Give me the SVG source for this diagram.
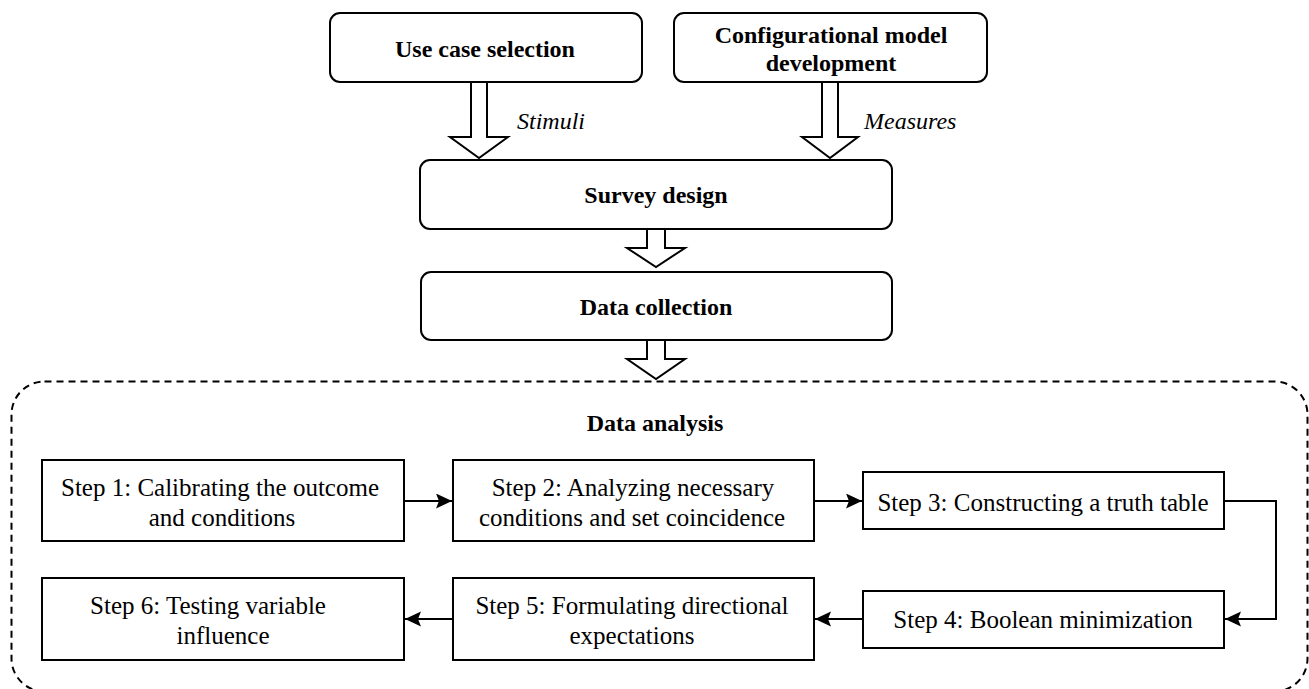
<svg xmlns="http://www.w3.org/2000/svg" width="1309" height="689" viewBox="0 0 1309 689">
<style>
.rbox{fill:#fff;stroke:#000;stroke-width:2}
.box{fill:#fff;stroke:#000;stroke-width:2}
.harrow{fill:#fff;stroke:#000;stroke-width:2;stroke-linejoin:miter}
.t{font-family:"Liberation Serif","Times New Roman",serif;font-size:24px;fill:#000;text-anchor:middle}
.s{font-size:25px}
.b{font-weight:bold}
.i{font-style:italic;text-anchor:start}
.conn{fill:none;stroke:#000;stroke-width:2}
.cont{fill:none;stroke:#000;stroke-width:2;stroke-dasharray:7 5}
</style>
<defs>
<marker id="ah" markerUnits="userSpaceOnUse" markerWidth="18" markerHeight="16" refX="16" refY="7.5" orient="auto">
<path d="M0,0 L16,7.5 L0,15 L3,7.5 z" fill="#000"/>
</marker>
</defs>
<rect class="cont" x="11.5" y="381.5" width="1296" height="310" rx="33"/>
<g id="connectors">
<polygon class="harrow" points="471,82 487,82 487,137 508,137 479,158 450,137 471,137"/>
<polygon class="harrow" points="822,82 838,82 838,137 858,137 830,158 802,137 822,137"/>
<polygon class="harrow" points="647,229 665,229 665,248 685,248 656,267 627,248 647,248"/>
<polygon class="harrow" points="647,340 665,340 665,359 685,359 656,379 627,359 647,359"/>
<text class="t i" x="517" y="129">Stimuli</text>
<text class="t i" x="864" y="129">Measures</text>
<path class="conn" d="M404,501 H452" marker-end="url(#ah)"/>
<path class="conn" d="M814,501 H862" marker-end="url(#ah)"/>
<path class="conn" d="M1224,501 H1276 V619 H1225" marker-end="url(#ah)"/>
<path class="conn" d="M863,619 H815" marker-end="url(#ah)"/>
<path class="conn" d="M453,619 H405" marker-end="url(#ah)"/>
</g>
<g id="use-case">
<rect class="rbox" x="330" y="13" width="312" height="69" rx="10"/>
<text class="t b" x="485" y="57">Use case selection</text>
</g>
<g id="config-model">
<rect class="rbox" x="674" y="13" width="313" height="69" rx="10"/>
<text class="t b" x="831" y="43">Configurational model</text>
<text class="t b" x="831" y="71">development</text>
</g>
<g id="survey-design">
<rect class="rbox" x="420" y="160" width="472" height="69" rx="10"/>
<text class="t b" x="656" y="203">Survey design</text>
</g>
<g id="data-collection">
<rect class="rbox" x="421" y="272" width="471" height="68" rx="10"/>
<text class="t b" x="656" y="315">Data collection</text>
</g>
<g id="data-analysis">
<text class="t b" x="655" y="431">Data analysis</text>
</g>
<g id="step1">
<rect class="box" x="42" y="460" width="362" height="81"/>
<text class="t s" x="220" y="496">Step 1: Calibrating the outcome</text>
<text class="t s" x="222" y="526">and conditions</text>
</g>
<g id="step2">
<rect class="box" x="453" y="460" width="361" height="81"/>
<text class="t s" x="633" y="496">Step 2: Analyzing necessary</text>
<text class="t s" x="632" y="526">conditions and set coincidence</text>
</g>
<g id="step3">
<rect class="box" x="863" y="472" width="361" height="57"/>
<text class="t s" x="1043" y="511">Step 3: Constructing a truth table</text>
</g>
<g id="step4">
<rect class="box" x="863" y="591" width="361" height="57"/>
<text class="t s" x="1043" y="628">Step 4: Boolean minimization</text>
</g>
<g id="step5">
<rect class="box" x="453" y="578" width="361" height="82"/>
<text class="t s" x="632" y="614">Step 5: Formulating directional</text>
<text class="t s" x="632" y="644">expectations</text>
</g>
<g id="step6">
<rect class="box" x="42" y="578" width="362" height="82"/>
<text class="t s" x="208" y="614">Step 6: Testing variable</text>
<text class="t s" x="223" y="644">influence</text>
</g>
</svg>
